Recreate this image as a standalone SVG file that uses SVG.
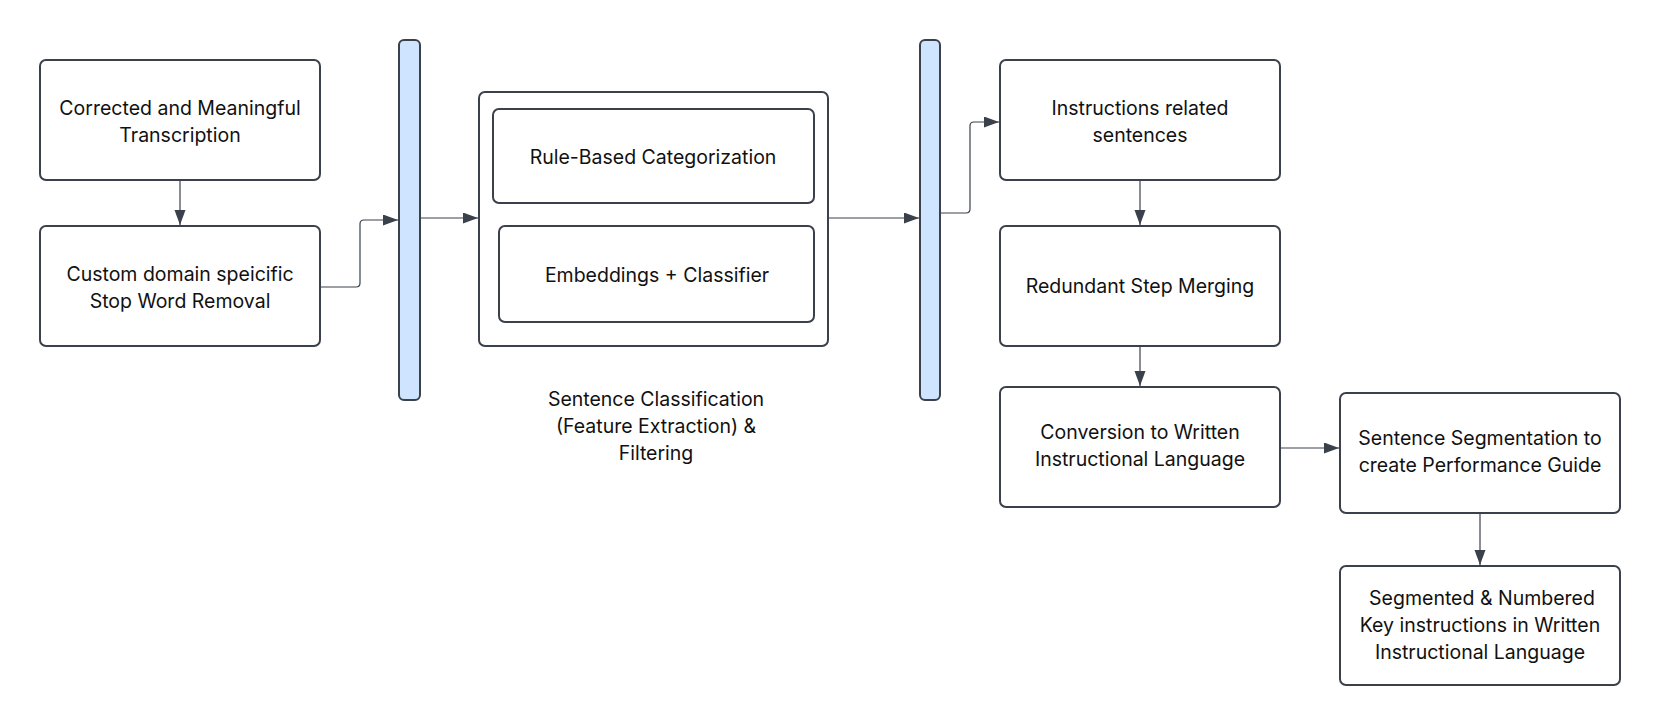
<svg xmlns="http://www.w3.org/2000/svg" width="1660" height="726" viewBox="0 0 1660 726">
<style>
.box{fill:#ffffff;stroke:#3a414a;stroke-width:2}
.bar{fill:#cfe4ff;stroke:#3a414a;stroke-width:2}
.t{font-family:Inter,"Liberation Sans",sans-serif;font-size:19.5px;fill:#111111;text-anchor:middle}
.c{fill:none;stroke:#3a414a;stroke-width:1.2;marker-end:url(#ah)}
</style>
<defs>
<marker id="ah" markerUnits="userSpaceOnUse" markerWidth="16" markerHeight="12" refX="15" refY="5.5" orient="auto">
<path d="M0,0 L15,5.5 L0,11 Z" fill="#3a414a"/>
</marker>
</defs>
<rect width="1660" height="726" fill="#ffffff"/>
<g id="n1"><rect class="box" x="40" y="60" width="280" height="120" rx="6"/>
<text class="t" x="180" y="115">Corrected and Meaningful</text><text class="t" x="180" y="142">Transcription</text></g>
<g id="n2"><rect class="box" x="40" y="226" width="280" height="120" rx="6"/>
<text class="t" x="180" y="281">Custom domain speicific</text><text class="t" x="180" y="308">Stop Word Removal</text></g>
<g id="bar1"><rect class="bar" x="399" y="40" width="21" height="360" rx="5"/></g>
<g id="n3"><rect class="box" x="479" y="92" width="349" height="254" rx="6"/>
<text class="t" x="656" y="406">Sentence Classification</text>
<text class="t" x="656" y="433">(Feature Extraction) &amp;</text>
<text class="t" x="656" y="460">Filtering</text></g>
<g id="n3a"><rect class="box" x="493" y="109" width="321" height="94" rx="6"/>
<text class="t" x="653" y="164">Rule-Based Categorization</text></g>
<g id="n3b"><rect class="box" x="499" y="226" width="315" height="96" rx="6"/>
<text class="t" x="657" y="282">Embeddings + Classifier</text></g>
<g id="bar2"><rect class="bar" x="920" y="40" width="20" height="360" rx="5"/></g>
<g id="n4"><rect class="box" x="1000" y="60" width="280" height="120" rx="6"/>
<text class="t" x="1140" y="115">Instructions related</text><text class="t" x="1140" y="142">sentences</text></g>
<g id="n5"><rect class="box" x="1000" y="226" width="280" height="120" rx="6"/>
<text class="t" x="1140" y="293">Redundant Step Merging</text></g>
<g id="n6"><rect class="box" x="1000" y="387" width="280" height="120" rx="6"/>
<text class="t" x="1140" y="439">Conversion to Written</text><text class="t" x="1140" y="466">Instructional Language</text></g>
<g id="n7"><rect class="box" x="1340" y="393" width="280" height="120" rx="6"/>
<text class="t" x="1480" y="445">Sentence Segmentation to</text><text class="t" x="1480" y="472">create Performance Guide</text></g>
<g id="n8"><rect class="box" x="1340" y="566" width="280" height="119" rx="6"/>
<text class="t" x="1482" y="605">Segmented &amp; Numbered</text><text class="t" x="1480" y="632">Key instructions in Written</text><text class="t" x="1480" y="659">Instructional Language</text></g>
<g id="connectors">
<path class="c" d="M180,181 V225"/>
<path class="c" d="M321,287 H356 Q360,287 360,283 V224 Q360,220 364,220 H398"/>
<path class="c" d="M421,218 H478"/>
<path class="c" d="M829,218 H919"/>
<path class="c" d="M941,213 H966 Q970,213 970,209 V126 Q970,122 974,122 H999"/>
<path class="c" d="M1140,181 V225"/>
<path class="c" d="M1140,347 V386"/>
<path class="c" d="M1281,448 H1339"/>
<path class="c" d="M1480,514 V565"/>
</g>
</svg>
